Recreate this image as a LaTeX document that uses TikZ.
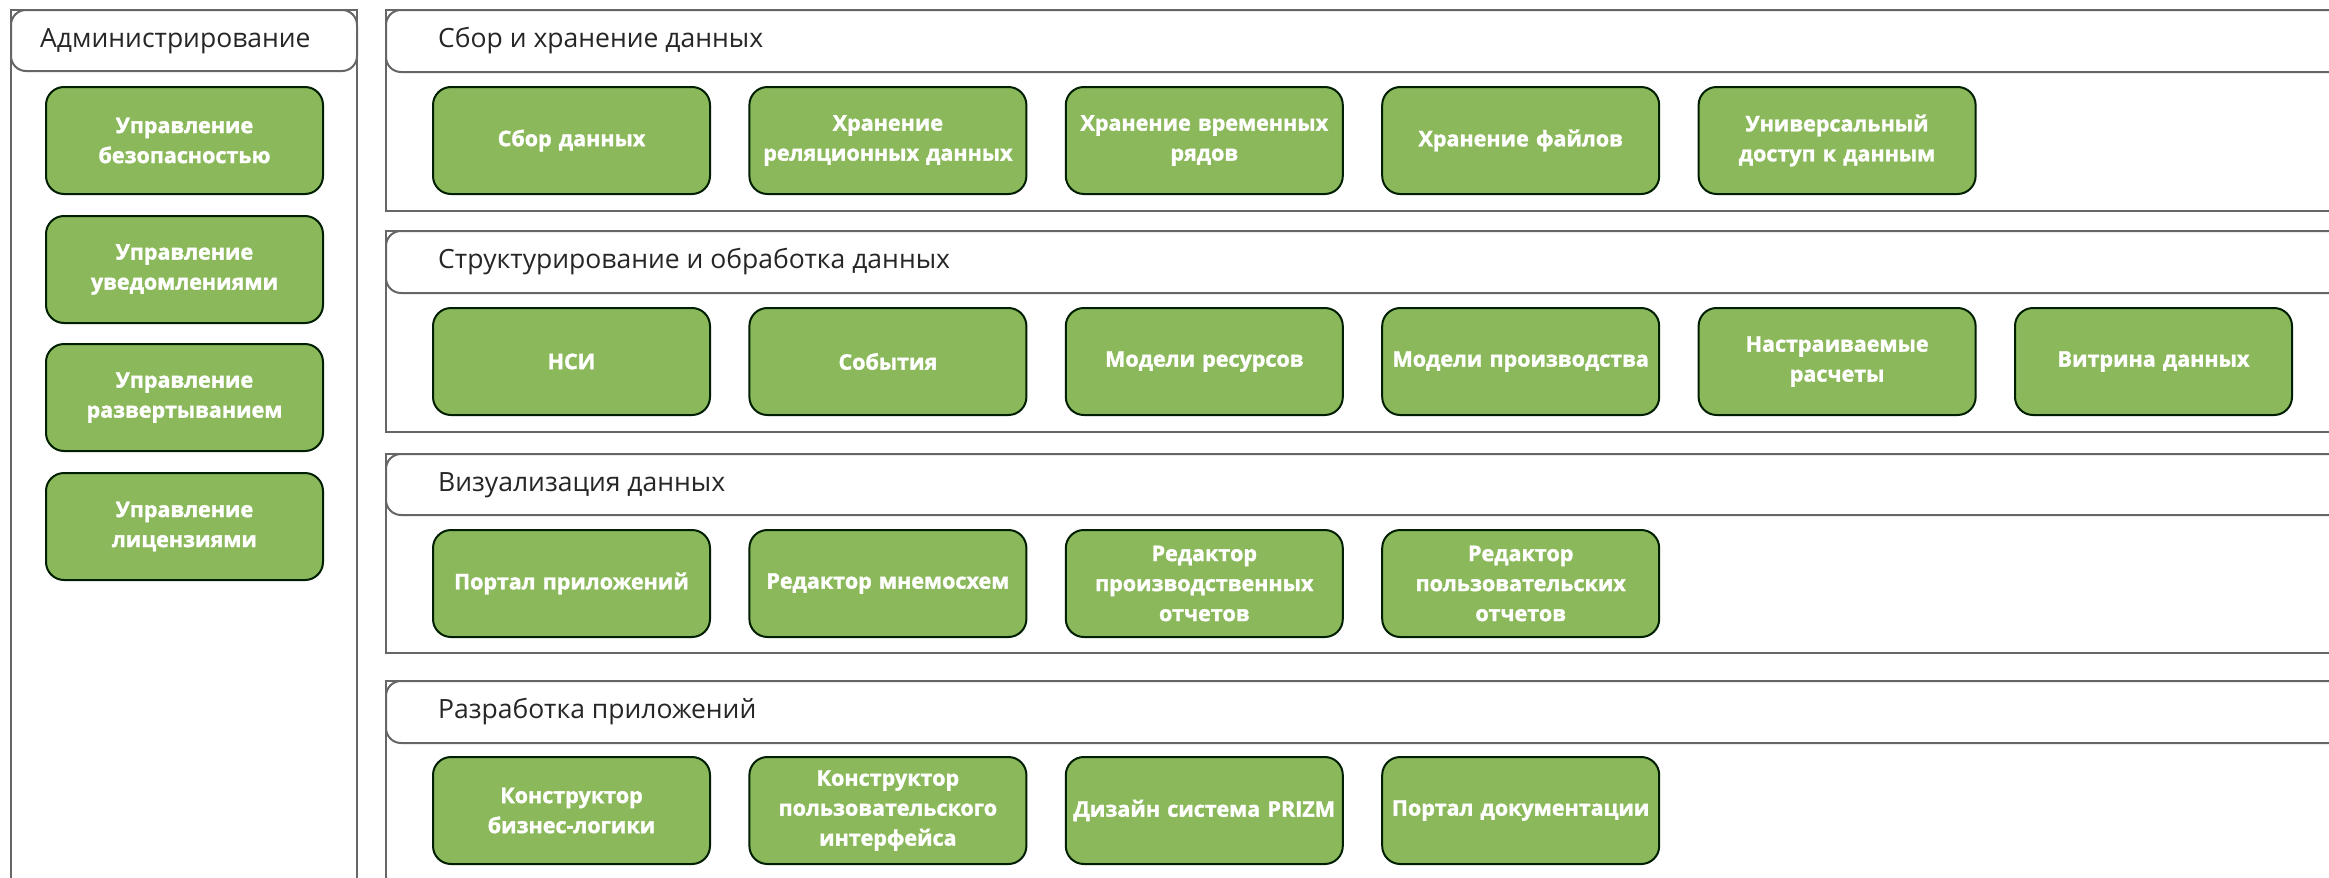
\documentclass[tikz,border=0pt]{standalone}
\usepackage{fontspec}
\setmainfont{Open Sans}
\newfontfamily\boxfont{Open Sans}[BoldFeatures={FakeBold=1.6}]
\begin{document}
\begin{tikzpicture}[x=1pt,y=-1pt,
  framebox/.style={draw=black!60,line width=2pt,fill=white},
  headbox/.style={draw=black!60,line width=2pt,fill=white,rounded corners=15pt},
  headtext/.style={anchor=west,inner sep=0pt,font=\fontsize{26.5}{32}\selectfont,text=black!85},
  gbox/.style={draw=black!70!green!40!black,line width=2pt,fill=gbfill,rounded corners=18pt,
    anchor=north west,minimum width=277pt,minimum height=107pt,inner sep=0pt,
    text width=277pt,align=center,text=white,
    font=\boxfont\bfseries\fontsize{21.5}{30}\selectfont}
]
\definecolor{gbfill}{HTML}{8BB85A}
\useasboundingbox (0,0) rectangle (2329,878);
\clip (0,0) rectangle (2329,878);
% Administration panel
\draw[framebox] (11,10) rectangle (357,920);
\draw[headbox] (11,10) rectangle (357,71);
\node[headtext] (hadm) at (40,41) {Администрирование};
\node[gbox] (a1) at (45,86) {Управление\\безопасностью};
\node[gbox] (a2) at (45,215) {Управление\\уведомлениями};
\node[gbox] (a3) at (45,343) {Управление\\развертыванием};
\node[gbox] (a4) at (45,472) {Управление\\лицензиями};
% Section 1
\draw[framebox] (386,10) rectangle (2400,211);
\draw[headbox] (386,10) rectangle (2400,72);
\node[headtext] (h1) at (438,41) {Сбор и хранение данных};
\node[gbox] (s11) at (432,86) {Сбор данных};
\node[gbox] (s12) at (748.4,86) {Хранение\\реляционных данных};
\node[gbox] (s13) at (1064.8,86) {Хранение временных\\рядов};
\node[gbox] (s14) at (1381.2,86) {Хранение файлов};
\node[gbox] (s15) at (1697.6,86) {Универсальный\\доступ к данным};
% Section 2
\draw[framebox] (386,231) rectangle (2400,432);
\draw[headbox] (386,231) rectangle (2400,293);
\node[headtext] (h2) at (438,262) {Структурирование и обработка данных};
\node[gbox] (s21) at (432,307) {НСИ};
\node[gbox] (s22) at (748.4,307) {События};
\node[gbox] (s23) at (1064.8,307) {Модели ресурсов};
\node[gbox] (s24) at (1381.2,307) {Модели производства};
\node[gbox] (s25) at (1697.6,307) {Настраиваемые\\расчеты};
\node[gbox] (s26) at (2014,307) {Витрина данных};
% Section 3
\draw[framebox] (386,454) rectangle (2400,653);
\draw[headbox] (386,454) rectangle (2400,515);
\node[headtext] (h3) at (438,485) {Визуализация данных};
\node[gbox] (s31) at (432,529) {Портал приложений};
\node[gbox] (s32) at (748.4,529) {Редактор мнемосхем};
\node[gbox] (s33) at (1064.8,529) {Редактор\\производственных\\отчетов};
\node[gbox] (s34) at (1381.2,529) {Редактор\\пользовательских\\отчетов};
% Section 4
\draw[framebox] (386,681) rectangle (2400,920);
\draw[headbox] (386,681) rectangle (2400,743);
\node[headtext] (h4) at (438,712) {Разработка приложений};
\node[gbox] (s41) at (432,756) {Конструктор\\бизнес-логики};
\node[gbox] (s42) at (748.4,756) {Конструктор\\пользовательского\\интерфейса};
\node[gbox] (s43) at (1064.8,756) {Дизайн система PRIZM};
\node[gbox] (s44) at (1381.2,756) {Портал документации};
\end{tikzpicture}
\end{document}
